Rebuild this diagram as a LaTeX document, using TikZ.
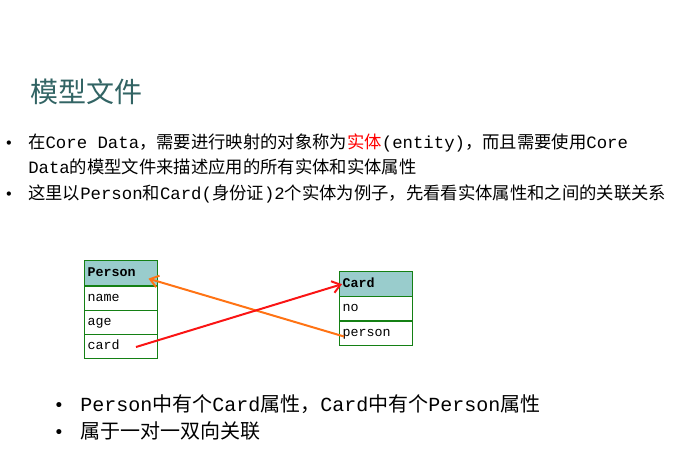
\documentclass[tikz,border=0pt]{standalone}
\usepackage{fontspec}
\setmonofont{Liberation Mono}
\newfontfamily\cjk{Noto Sans CJK SC}
\newfontfamily\bulletfont{DejaVu Sans}
\usetikzlibrary{calc,arrows.meta}
\newcommand{\C}[1]{{\cjk #1}}
\definecolor{titlecol}{RGB}{50,100,100}
\definecolor{headfill}{RGB}{153,204,204}
\definecolor{boxgreen}{RGB}{20,128,20}
\definecolor{arrred}{RGB}{250,20,20}
\definecolor{arrorange}{RGB}{255,115,20}
\begin{document}
\begin{tikzpicture}[x=0.75pt,y=-0.75pt]
\tikzset{
  entbox/.style={draw=boxgreen, line width=0.75pt, minimum width=54.75pt, minimum height=18pt,
    inner xsep=2.25pt, inner ysep=0pt, text width=50.25pt, text height=7.5pt, text depth=2.5pt,
    align=left, anchor=north west,
    font=\ttfamily\fontsize{10}{12}\selectfont},
  enthead/.style={entbox, fill=headfill, minimum height=19pt, font=\ttfamily\bfseries\fontsize{10}{12}\selectfont},
  line/.style={anchor=base west, inner sep=0pt, font=\ttfamily\fontsize{13}{15}\selectfont},
  bigline/.style={anchor=base west, inner sep=0pt, font=\ttfamily\fontsize{15}{18}\selectfont},
  dotmark/.style={anchor=base, inner sep=0pt},
  rel/.style={line width=1.5pt, -{Straight Barb[length=6pt,width=9pt]}}
}
\useasboundingbox (0,0) rectangle (674,449);
% title
\node[anchor=base west, inner sep=0pt, text=titlecol, font=\cjk\fontsize{21}{24}\selectfont] (title) at (30,103) {模型文件};
% bullets top
\node[dotmark, font=\bulletfont\fontsize{11}{12}\selectfont] (b1) at (9,149) {•};
\node[dotmark, font=\bulletfont\fontsize{11}{12}\selectfont] (b2) at (9,199) {•};
\node[line] (l1) at (28,149) {\C{在}Core Data\C{，需要进行映射的对象称为}\textcolor{red}{\C{实体}}(entity)\C{，而且需要使用}Core};
\node[line] (l2) at (28,173) {Data\C{的模型文件来描述应用的所有实体和实体属性}};
\node[line] (l3) at (28,199) {\C{这里以}Person\C{和}Card(\C{身份证})2\C{个实体为例子，先看看实体属性和之间的关联关系}};
% entity boxes
\node[enthead] (personH) at (84,260) {Person};
\node[entbox] (personName) at (84,286) {name};
\node[entbox] (personAge) at (84,310) {age};
\node[entbox] (personCard) at (84,334) {card};
\node[enthead] (cardH) at (339,271) {Card};
\node[entbox] (cardNo) at (339,296) {no};
\node[entbox] (cardPerson) at (339,321) {person};
% relations
\draw[rel, arrorange] ($(cardPerson.west)+(5,3)$) -- ($(personH.center)+(27.5,5.5)$);
\draw[rel, arrred] ($(personCard.center)+(15,0.5)$) -- ($(cardH.west)+(3,0)$);
% bottom bullets
\node[dotmark, font=\bulletfont\fontsize{13}{14}\selectfont] (b3) at (59,411) {•};
\node[dotmark, font=\bulletfont\fontsize{13}{14}\selectfont] (b4) at (59,438) {•};
\node[bigline] (l4) at (80,411) {Person\C{中有个}Card\C{属性，}Card\C{中有个}Person\C{属性}};
\node[bigline] (l5) at (80,438) {\C{属于一对一双向关联}};
\end{tikzpicture}
\end{document}
